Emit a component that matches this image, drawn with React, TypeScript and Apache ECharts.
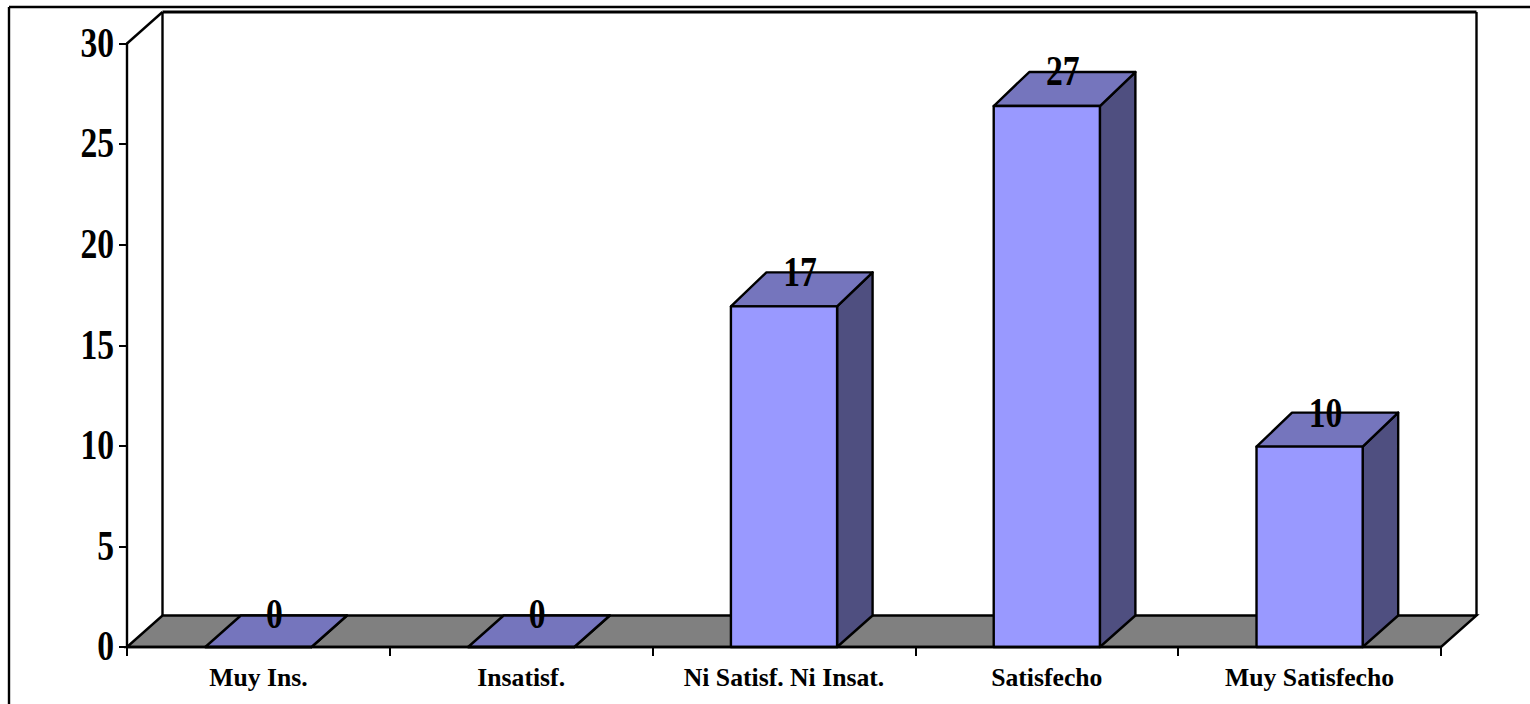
import React, { useEffect, useRef } from "react";
import * as echarts from "echarts";

const categories = ["Muy Ins.", "Insatisf.", "Ni Satisf. Ni Insat.", "Satisfecho", "Muy Satisfecho"];
const values = [0, 0, 17, 27, 10];
const yTicks = [0, 5, 10, 15, 20, 25, 30];

const SERIF = "'Liberation Serif', 'Times New Roman', serif";
const DX = 35.5;
const DY = 31.5;
const BAR_DY = 34;
const BAR_RATIO = 0.404;
const BAR_SAG = 0.08;
const LINE = { stroke: "#000", lineWidth: 2.4 };

const tallText = (text: string, x: number, y: number, align: string) => ({
  type: "text",
  x,
  y,
  scaleX: 0.8,
  scaleY: 1,
  z2: 30,
  style: {
    text,
    x: 0,
    y: 0,
    fill: "#000",
    font: `bold 42px ${SERIF}`,
    align,
    verticalAlign: "middle",
  },
});

export default function App() {
  const ref = useRef<HTMLDivElement>(null);
  useEffect(() => {
    const chart = echarts.init(ref.current!, null, { renderer: "svg" });
    chart.setOption({
      animation: false,
      backgroundColor: "#fff",
      grid: { left: 127, top: 43.5, width: 1314, height: 603.5, containLabel: false },
      graphic: [
        { type: "line", shape: { x1: 9, y1: 7, x2: 1530, y2: 7 }, style: LINE, z: 0 },
        { type: "line", shape: { x1: 9, y1: 7, x2: 9, y2: 704 }, style: LINE, z: 0 },
      ],
      xAxis: {
        type: "category",
        data: categories,
        boundaryGap: true,
        z: 5,
        axisLine: { show: true, lineStyle: { color: "#000", width: 2.4 } },
        axisTick: { show: true, length: 9, alignWithLabel: false, lineStyle: { color: "#000", width: 2 } },
        axisLabel: {
          interval: 0,
          margin: 17,
          color: "#000",
          fontFamily: SERIF,
          fontWeight: "bold",
          fontSize: 25.7,
        },
        splitLine: { show: false },
      },
      yAxis: {
        type: "value",
        min: 0,
        max: 30,
        interval: 5,
        z: 5,
        axisLine: { show: true, lineStyle: { color: "#000", width: 2.4 } },
        axisTick: { show: true, length: 8, lineStyle: { color: "#000", width: 2 } },
        axisLabel: { show: false },
        splitLine: { show: false },
      },
      series: [
        {
          type: "custom",
          name: "walls",
          coordinateSystem: "cartesian2d",
          data: [[0, 0]],
          silent: true,
          z: 1,
          renderItem: (_p: any, api: any) => {
            const a = api.coord([0, 0]);
            const t = api.coord([0, 30]);
            const x0 = t[0] - api.size([1, 0])[0] / 2;
            const x1 = x0 + api.size([1, 0])[0] * categories.length;
            const y0 = a[1];
            const y1 = t[1];
            return {
              type: "group",
              children: [
                {
                  type: "polygon",
                  shape: { points: [[x0, y0], [x0 + DX, y0 - DY], [x1 + DX, y0 - DY], [x1, y0]] },
                  style: { fill: "#808080", ...LINE },
                },
                { type: "line", shape: { x1: x0 + DX, y1: y0 - DY, x2: x0 + DX, y2: y1 - DY }, style: LINE },
                { type: "line", shape: { x1: x0, y1: y1, x2: x0 + DX, y2: y1 - DY }, style: LINE },
                { type: "line", shape: { x1: x0 + DX, y1: y1 - DY, x2: x1 + DX, y2: y1 - DY }, style: { stroke: "#000", lineWidth: 3 } },
                { type: "line", shape: { x1: x1 + DX, y1: y1 - DY, x2: x1 + DX, y2: y0 - DY }, style: LINE },
              ],
            };
          },
        },
        {
          type: "custom",
          name: "bars",
          coordinateSystem: "cartesian2d",
          data: values.map((v, i) => [i, v]),
          silent: true,
          z: 3,
          renderItem: (_p: any, api: any) => {
            const v = api.value(1);
            const c = api.coord([api.value(0), v]);
            const top = [c[0], c[1] + v * BAR_SAG];
            const base = api.coord([api.value(0), 0]);
            const w = api.size([1, 0])[0] * BAR_RATIO;
            const l = top[0] - w / 2;
            const r = top[0] + w / 2;
            const dyTop = v > 0 ? BAR_DY : DY;
            const edge = { stroke: "#000", lineWidth: 2.4, lineJoin: "round" };
            return {
              type: "group",
              children: [
                {
                  type: "polygon",
                  shape: { points: [[r, top[1]], [r + DX, top[1] - dyTop], [r + DX, base[1] - DY], [r, base[1]]] },
                  style: { fill: "#4F4F80", ...edge },
                },
                {
                  type: "polygon",
                  shape: { points: [[l, top[1]], [l + DX, top[1] - dyTop], [r + DX, top[1] - dyTop], [r, top[1]]] },
                  style: { fill: "#7575BD", ...edge },
                },
                {
                  type: "rect",
                  shape: { x: l, y: top[1], width: w, height: base[1] - top[1] },
                  style: { fill: "#9999FF", ...edge },
                },
              ],
            };
          },
        },
        {
          type: "custom",
          name: "valueLabels",
          coordinateSystem: "cartesian2d",
          data: values.map((v, i) => [i, v]),
          silent: true,
          z: 6,
          renderItem: (_p: any, api: any) => {
            const c = api.coord([api.value(0), api.value(1)]);
            return tallText(String(api.value(1)), c[0] + 16, c[1] - 33.5, "center");
          },
        },
        {
          type: "custom",
          name: "yLabels",
          coordinateSystem: "cartesian2d",
          data: yTicks.map((v) => [0, v]),
          silent: true,
          z: 6,
          renderItem: (_p: any, api: any) => {
            const c = api.coord([0, api.value(1)]);
            const x = c[0] - api.size([1, 0])[0] / 2 - 13;
            return tallText(String(api.value(1)), x, c[1] - 1, "right");
          },
        },
      ],
    });
    return () => chart.dispose();
  }, []);
  return <div ref={ref} style={{ position: "absolute", left: 0, top: 0, width: 1530, height: 704 }} />;
}
